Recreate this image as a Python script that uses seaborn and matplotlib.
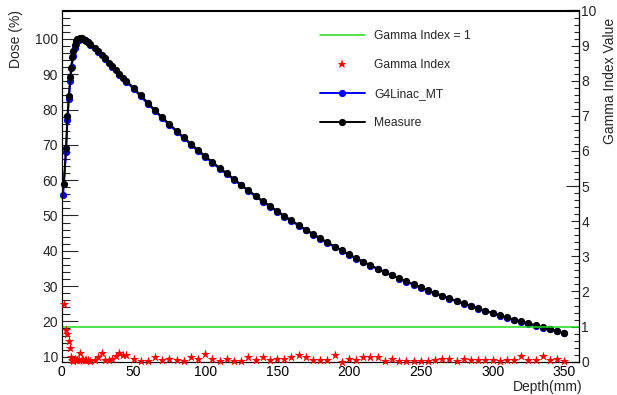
import matplotlib
matplotlib.use("Agg")
import matplotlib.pyplot as plt
from matplotlib.lines import Line2D
from matplotlib.ticker import MultipleLocator, FixedLocator, NullFormatter
import pandas as pd
import seaborn as sns

sns.set_style("white")
plt.rcParams["font.family"] = ["Liberation Sans", "DejaVu Sans"]

# Measured depth-dose curve (depth in mm, dose in %)
measure_depth = [1.5, 3, 4, 5, 6, 6.5, 7.5, 8, 9, 10, 11, 12, 13, 14, 15, 16, 17, 18,
                 20, 23, 25, 28, 30, 33, 35, 38, 40, 43, 45, 50,
                 55, 60, 65, 70, 75, 80, 85, 90, 95, 100,
                 105, 110, 115, 120, 125, 130, 135, 140, 145, 150,
                 155, 160, 165, 170, 175, 180, 185, 190, 195, 200,
                 205, 210, 215, 220, 225, 230, 235, 240, 245, 250,
                 255, 260, 265, 270, 275, 280, 285, 290, 295, 300,
                 305, 310, 315, 320, 325, 330, 335, 340, 345, 350]
measure_dose = [58.9, 69.2, 78.2, 83.9, 89.3, 91.9, 94.8, 96.7, 98.4, 99.5, 99.9, 100.1,
                100.2, 100.2, 100.0, 99.8, 99.5, 99.2, 98.6, 97.5, 96.7, 95.5, 94.6, 93.3,
                92.4, 91.1, 90.2, 89.0, 88.1, 86.2,
                84.0, 81.9, 79.8, 77.8, 75.9, 74.0, 72.1, 70.3, 68.5, 66.8,
                65.1, 63.5, 61.9, 60.3, 58.7, 57.1, 55.6, 54.1, 52.7, 51.3,
                49.9, 48.6, 47.3, 46.0, 44.8, 43.5, 42.4, 41.2, 40.1, 39.0,
                37.9, 36.9, 35.9, 34.9, 34.0, 33.1, 32.2, 31.3, 30.5, 29.6,
                28.8, 28.0, 27.3, 26.5, 25.8, 25.1, 24.4, 23.7, 23.0, 22.4,
                21.7, 21.1, 20.5, 20.0, 19.4, 18.9, 18.3, 17.8, 17.3, 16.8]

# Gamma index at each measured depth
gamma_value = [1.63, 0.90, 0.78, 0.58, 0.38, 0.14, 0.06, 0.03, 0.08, 0.04, 0.06, 0.05,
               0.25, 0.08, 0.05, 0.06, 0.04, 0.05, 0.03, 0.06, 0.12, 0.25, 0.04, 0.05,
               0.09, 0.15, 0.24, 0.19, 0.18, 0.07,
               0.03, 0.01, 0.14, 0.05, 0.09, 0.05, 0.01, 0.14, 0.09, 0.22,
               0.09, 0.02, 0.09, 0.02, 0.01, 0.14, 0.04, 0.14, 0.04, 0.09,
               0.07, 0.14, 0.19, 0.12, 0.05, 0.05, 0.05, 0.19, 0.00, 0.07,
               0.04, 0.14, 0.12, 0.12, 0.01, 0.08, 0.01, 0.02, 0.03, 0.03,
               0.03, 0.04, 0.07, 0.07, 0.01, 0.09, 0.04, 0.04, 0.04, 0.04,
               0.01, 0.04, 0.04, 0.16, 0.04, 0.04, 0.16, 0.04, 0.09, 0.01]

# G4Linac_MT simulated depth-dose curve
sim_depth = [1, 3, 4, 5, 6, 7, 8, 9, 10, 12, 14, 16, 18, 20, 25, 30, 35, 40, 45, 50,
             55, 60, 65, 70, 75, 80, 85, 90, 95, 100,
             105, 110, 115, 120, 125, 130, 135, 140, 145, 150,
             155, 160, 165, 170, 175, 180, 185, 190, 195, 200,
             205, 210, 215, 220, 225, 230, 235, 240, 245, 250,
             255, 260, 265, 270, 275, 280, 285, 290, 295, 300,
             305, 310, 315, 320, 325, 330, 335, 340, 345, 350]
sim_dose = [55.9, 67.9, 76.9, 83.0, 88.1, 92.0, 95.2, 97.3, 98.6, 99.8, 100.0, 99.6,
            99.0, 98.4, 96.4, 94.2, 92.0, 89.8, 87.8, 85.9,
            83.7, 81.6, 79.6, 77.5, 75.6, 73.7, 71.9, 70.0, 68.2, 66.5,
            64.9, 63.2, 61.7, 60.0, 58.5, 56.9, 55.4, 53.9, 52.5, 51.1,
            49.7, 48.4, 47.1, 45.8, 44.6, 43.4, 42.2, 41.1, 40.0, 38.9,
            37.8, 36.8, 35.8, 34.8, 33.9, 33.0, 32.1, 31.2, 30.4, 29.5,
            28.7, 27.9, 27.2, 26.4, 25.7, 25.0, 24.3, 23.6, 23.0, 22.3,
            21.6, 21.0, 20.4, 19.9, 19.3, 18.8, 18.2, 17.7, 17.2, 16.7]

gamma_threshold = 1

measure_df = pd.DataFrame({"depth": measure_depth, "dose": measure_dose, "gamma": gamma_value})
sim_df = pd.DataFrame({"depth": sim_depth, "dose": sim_dose})

W, H = 617, 395
fig = plt.figure(figsize=(W / 100, H / 100), dpi=100)
x0, x1, y0, y1 = 61.7, 579.3, 10.5, 361.7
ax = fig.add_axes([x0 / W, 1 - y1 / H, (x1 - x0) / W, (y1 - y0) / H])
ax2 = ax.twinx()

green = "#1fdc1f"

sns.lineplot(data=sim_df, x="depth", y="dose", ax=ax, color="blue", marker="o",
             markersize=5.2, markeredgewidth=0, linewidth=1.4, estimator=None,
             sort=False, legend=False, clip_on=False)
sns.lineplot(data=measure_df, x="depth", y="dose", ax=ax, color="black", marker="o",
             markersize=5.2, markeredgewidth=0, linewidth=1.4, estimator=None,
             sort=False, legend=False, clip_on=False)

ax2.axhline(gamma_threshold, color=green, linewidth=1.1)
sns.scatterplot(data=measure_df, x="depth", y="gamma", ax=ax2, color="red", marker="*",
                s=50, linewidth=0, legend=False, clip_on=False, zorder=3)

ax.set_xlim(0, 360.4)
ax.set_ylim(8.58, 108.05)
ax2.set_ylim(0, 10)
ax.set_xlabel("")
ax.set_ylabel("")
ax2.set_ylabel("")

for a in (ax, ax2):
    for sp in a.spines.values():
        sp.set_linewidth(0.8)
        sp.set_color("black")

ax.xaxis.set_major_locator(MultipleLocator(50))
ax.xaxis.set_minor_locator(MultipleLocator(10))
ax.yaxis.set_major_locator(MultipleLocator(10))
ax.yaxis.set_minor_locator(MultipleLocator(2))
ax.tick_params(axis="x", which="major", direction="in", length=7.2, width=0.8,
               labelsize=10, pad=2.4, top=False, colors="black")
ax.tick_params(axis="x", which="minor", direction="in", length=3.6, width=0.8, top=False)
ax.tick_params(axis="y", which="major", direction="in", length=11.5, width=0.8,
               labelsize=10, pad=2.6, right=False)
ax.tick_params(axis="y", which="minor", direction="in", length=5.8, width=0.8, right=False)

ax2.yaxis.set_major_locator(MultipleLocator(1))
ax2.yaxis.set_minor_locator(MultipleLocator(0.2))
ax2.tick_params(axis="y", which="major", direction="in", length=5.5, width=0.8,
                labelsize=10, pad=1.5)
ax2.tick_params(axis="y", which="minor", direction="in", length=3.6, width=0.8)

sec = ax2.secondary_yaxis("right")
sec.yaxis.set_major_locator(FixedLocator([0, 5, 10]))
sec.yaxis.set_major_formatter(NullFormatter())
sec.tick_params(axis="y", direction="in", length=9.1, width=0.8)
sec.spines["right"].set_linewidth(0.8)

fig.text(16 / W, 1 - 10 / H, "Dose (%)", rotation=90, ha="center", va="top", fontsize=10)
fig.text(582 / W, 1 - 391 / H, "Depth(mm)", ha="right", va="baseline", fontsize=10)
fig.text(616.5 / W, 1 - 18 / H, "Gamma Index Value", rotation=90, ha="right", va="top",
         fontsize=10)

handles = [
    Line2D([], [], color=green, linewidth=1.1),
    Line2D([], [], color="red", marker="*", linestyle="none", markersize=6.5,
           markeredgewidth=0),
    Line2D([], [], color="blue", marker="o", linewidth=1.4, markersize=5.2,
           markeredgewidth=0),
    Line2D([], [], color="black", marker="o", linewidth=1.4, markersize=5.2,
           markeredgewidth=0),
]
labels = ["Gamma Index = 1", "Gamma Index", "G4Linac_MT", "Measure"]
fig.legend(handles, labels, loc="upper left", bbox_to_anchor=(320 / W, 1 - 30 / H),
           bbox_transform=fig.transFigure, frameon=False, fontsize=8.7,
           handlelength=3.72, handletextpad=0.75, labelspacing=1.42, borderpad=0,
           borderaxespad=0, numpoints=1)

fig.savefig("out.png", dpi=100)
